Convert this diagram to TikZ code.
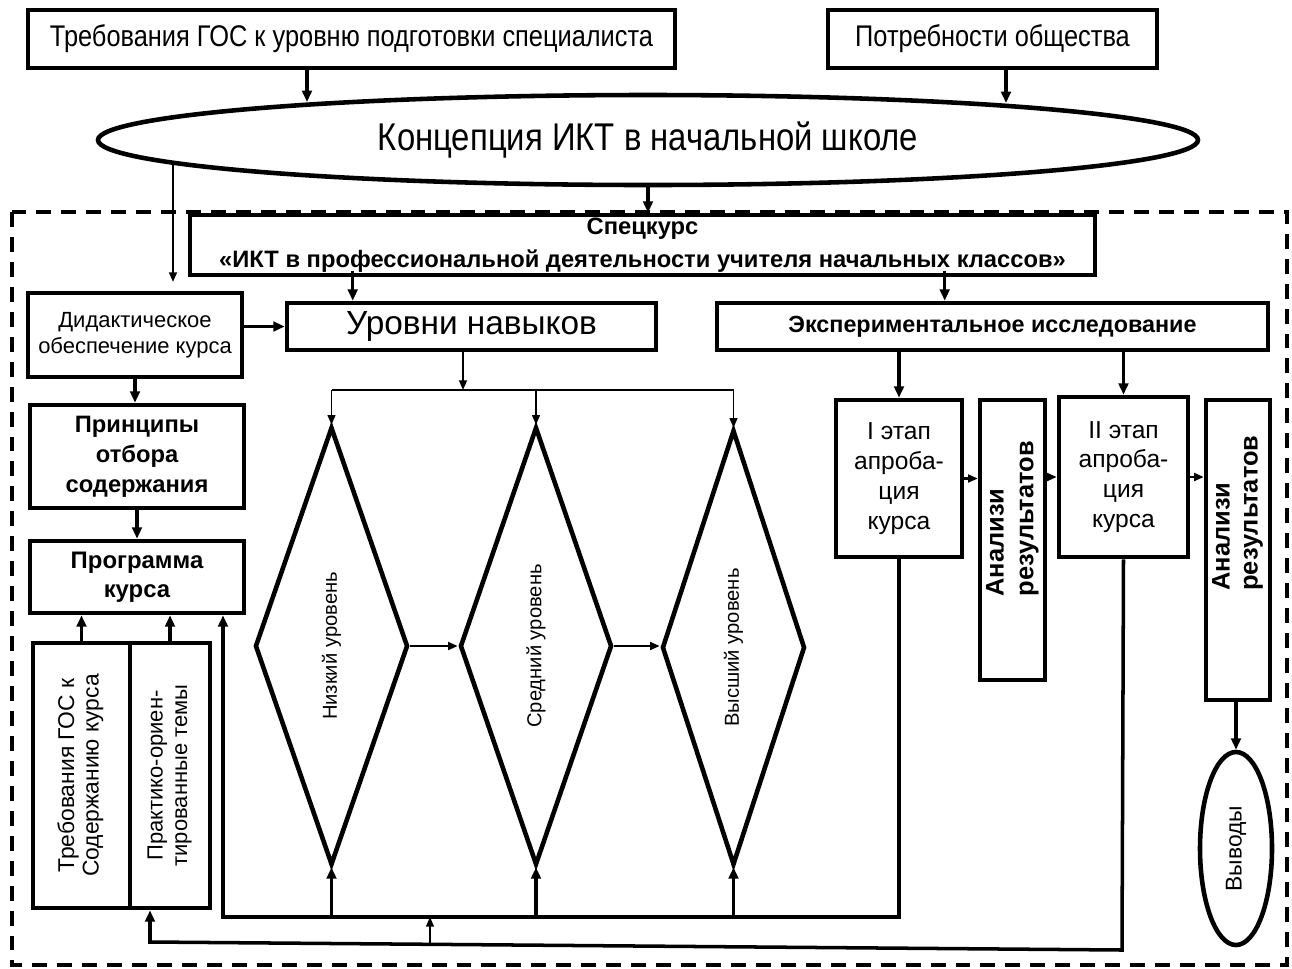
\documentclass[tikz,border=0pt]{standalone}
\usepackage{fontspec}
\usepackage{graphicx}
\setmainfont{Liberation Sans}
\newfontfamily\narrowfont[FakeStretch=0.85]{Liberation Sans}
\usetikzlibrary{shapes.geometric,arrows.meta}
\newcommand{\pxu}{0.02cm}

\begin{document}
\begin{tikzpicture}[x=0.02cm, y=-0.02cm]
\tikzstyle{block} = [draw, line width=2.6pt, align=center, inner sep=1pt]
\tikzstyle{level} = [draw, diamond, line width=2.6pt, inner sep=0pt, shape aspect=0.35, font=\fontsize{11.5}{14}\selectfont]
\tikzstyle{arr} = [-{Triangle[length=6.5pt, width=5.5pt]}, line width=2pt]
\tikzstyle{thinarr} = [-{Triangle[length=5.5pt, width=4.5pt]}, line width=0.9pt]
\useasboundingbox (0,0) rectangle (1292,968);
\draw[line width=2.4pt, dash pattern=on 8.5pt off 5.7pt] (12,212) rectangle (1287,965);
% top
\node[block, minimum width=647*\pxu, minimum height=58*\pxu, font=\narrowfont\fontsize{17}{19}\selectfont] (tr) at (351.5, 39) {Требования ГОС к уровню подготовки специалиста};
\node[block, minimum width=329*\pxu, minimum height=58*\pxu, font=\narrowfont\fontsize{17}{19}\selectfont] (need) at (992.5, 39) {Потребности общества};
\node[draw, ellipse, line width=2.6pt, minimum width=1100*\pxu, minimum height=90*\pxu, font=\narrowfont\fontsize{22}{24}\selectfont] (conc) at (648, 140) {Концепция ИКТ в начальной школе};
\node[block, minimum width=905*\pxu, minimum height=60*\pxu, font=\bfseries\fontsize{13.5}{18.5}\selectfont] (spec) at (642.5, 245) {Спецкурс\\«ИКТ в профессиональной деятельности учителя начальных классов»};
% left column
\node[block, minimum width=214*\pxu, minimum height=84*\pxu, font=\fontsize{12.5}{14.7}\selectfont] (did) at (135, 335) {Дидактическое\\обеспечение курса};
\node[block, minimum width=214*\pxu, minimum height=103*\pxu, font=\bfseries\fontsize{13.5}{17}\selectfont] (princ) at (137, 456.5) {Принципы\\отбора\\содержания};
\node[block, minimum width=214*\pxu, minimum height=72*\pxu, font=\bfseries\fontsize{13.6}{16.5}\selectfont] (prog) at (137, 577) {Программа\\курса};
\node[block, minimum width=97*\pxu, minimum height=265*\pxu, font=\fontsize{13}{14}\selectfont] (gosc) at (81.5, 775.5) {\rotatebox{90}{\begin{tabular}{@{}c@{}}Требования ГОС к\\Содержанию курса\end{tabular}}};
\node[block, minimum width=80*\pxu, minimum height=265*\pxu, font=\fontsize{12.5}{14}\selectfont] (prak) at (170, 775.5) {\rotatebox{90}{\begin{tabular}{@{}c@{}}Практико-ориен-\\тированные темы\end{tabular}}};
% levels
\node[block, minimum width=369*\pxu, minimum height=47*\pxu, font=\fontsize{19}{22}\selectfont] (lev) at (471.5, 326.5) {Уровни навыков};
\node[level, minimum width=153*\pxu, minimum height=438*\pxu] (low) at (331.5, 646) {\rotatebox{90}{Низкий уровень}};
\node[level, minimum width=152*\pxu, minimum height=438*\pxu] (mid) at (536, 646) {\rotatebox{90}{Средний уровень}};
\node[level, minimum width=143*\pxu, minimum height=435*\pxu] (high) at (733.5, 647.5) {\rotatebox{90}{Высший уровень}};
% experiment
\node[block, minimum width=551*\pxu, minimum height=47*\pxu, font=\bfseries\fontsize{13.3}{16}\selectfont] (exp) at (992.5, 326.5) {Экспериментальное исследование};
\node[block, minimum width=126*\pxu, minimum height=157*\pxu, font=\fontsize{14}{17}\selectfont] (stage1) at (899, 478.5) {I этап\\апроба-\\ция\\курса};
\node[block, minimum width=65*\pxu, minimum height=280*\pxu, font=\bfseries\fontsize{14.5}{17}\selectfont] (an1) at (1012.5, 540) {\rotatebox{90}{\hspace{24pt}\begin{tabular}{@{}l@{}}Анализи\\результатов\end{tabular}}};
\node[block, minimum width=129*\pxu, minimum height=160*\pxu, font=\fontsize{14}{17}\selectfont] (stage2) at (1123.5, 477) {II этап\\апроба-\\ция\\курса};
\node[block, minimum width=64*\pxu, minimum height=300*\pxu, font=\bfseries\fontsize{14.5}{16}\selectfont] (an2) at (1238, 550) {\rotatebox{90}{\hspace{42pt}\begin{tabular}{@{}l@{}}Анализи\\результатов\end{tabular}}};
\node[draw, ellipse, line width=2.6pt, inner sep=0pt, minimum width=72*\pxu, minimum height=193*\pxu, font=\fontsize{13}{15}\selectfont] (concl) at (1236, 848.5) {\rotatebox{90}{Выводы}};
% connectors
\coordinate (ct1) at (307, 102);
\coordinate (ct2) at (1006, 103);
\coordinate (cd) at (173, 163);
\draw[arr] (tr.south -| ct1) -- (ct1);
\draw[arr] (need.south -| ct2) -- (ct2);
\draw[thinarr, line width=1.1pt, shorten >=5pt] (cd) -- (cd |- did.north);
\draw[arr] (conc.south) -- (conc.south |- spec.north);
\draw[arr] ([shift={(68,-30)}]lev.north west) -- ([shift={(68,0)}]lev.north west);
\draw[arr] ([shift={(230,-30)}]exp.north west) -- ([shift={(230,0)}]exp.north west);
\draw[arr] (lev.west -| did.east) -- (lev.west);
\draw[arr] (did.south) -- (did.south |- princ.north);
\draw[arr] (princ.south) -- (princ.south |- prog.north);
\draw[arr] (gosc.north) -- (gosc.north |- prog.south);
\draw[arr] (prak.north) -- (prak.north |- prog.south);
\coordinate (fork) at (463, 390);
\draw[thinarr] (lev.south -| fork) -- (fork);
\draw[line width=0.9pt] (fork -| low.north) -- (fork -| high.north);
\foreach \d in {low, mid, high}
  \draw[thinarr] (fork -| \d.north) -- (\d.north);
\draw[thinarr, line width=1.2pt] (low.east) -- (mid.west);
\draw[thinarr, line width=1.2pt] (mid.east) -- (mid.east -| high.west);
\draw[arr] (exp.south -| stage1.north) -- (stage1.north);
\draw[arr] (exp.south -| stage2.north) -- (stage2.north);
\draw[thinarr, line width=1.2pt] (stage1.east) -- (stage1.east -| an1.west);
\draw[thinarr, line width=1.2pt] (stage2.west -| an1.east) -- (stage2.west);
\draw[thinarr, line width=1.2pt] (stage2.east) -- (stage2.east -| an2.west);
\draw[arr] (concl.north |- an2.south) -- (concl.north);
% feedback
\coordinate (fb1) at (223, 917);
\draw[arr] (stage1.south) |- (fb1) -- (fb1 |- prog.south);
\foreach \d in {low, mid, high}
  \draw[arr] (fb1 -| \d.south) -- (\d.south);
\coordinate (fb2r) at (1122, 950);
\coordinate (fb2l) at (150, 942);
\draw[arr] (stage2.south) -- (fb2r) -- (fb2l) -- (fb2l |- prak.south);
\coordinate (fb3) at (430, 943);
\draw[thinarr] (fb3) -- (fb3 |- fb1);
\end{tikzpicture}
\end{document}
